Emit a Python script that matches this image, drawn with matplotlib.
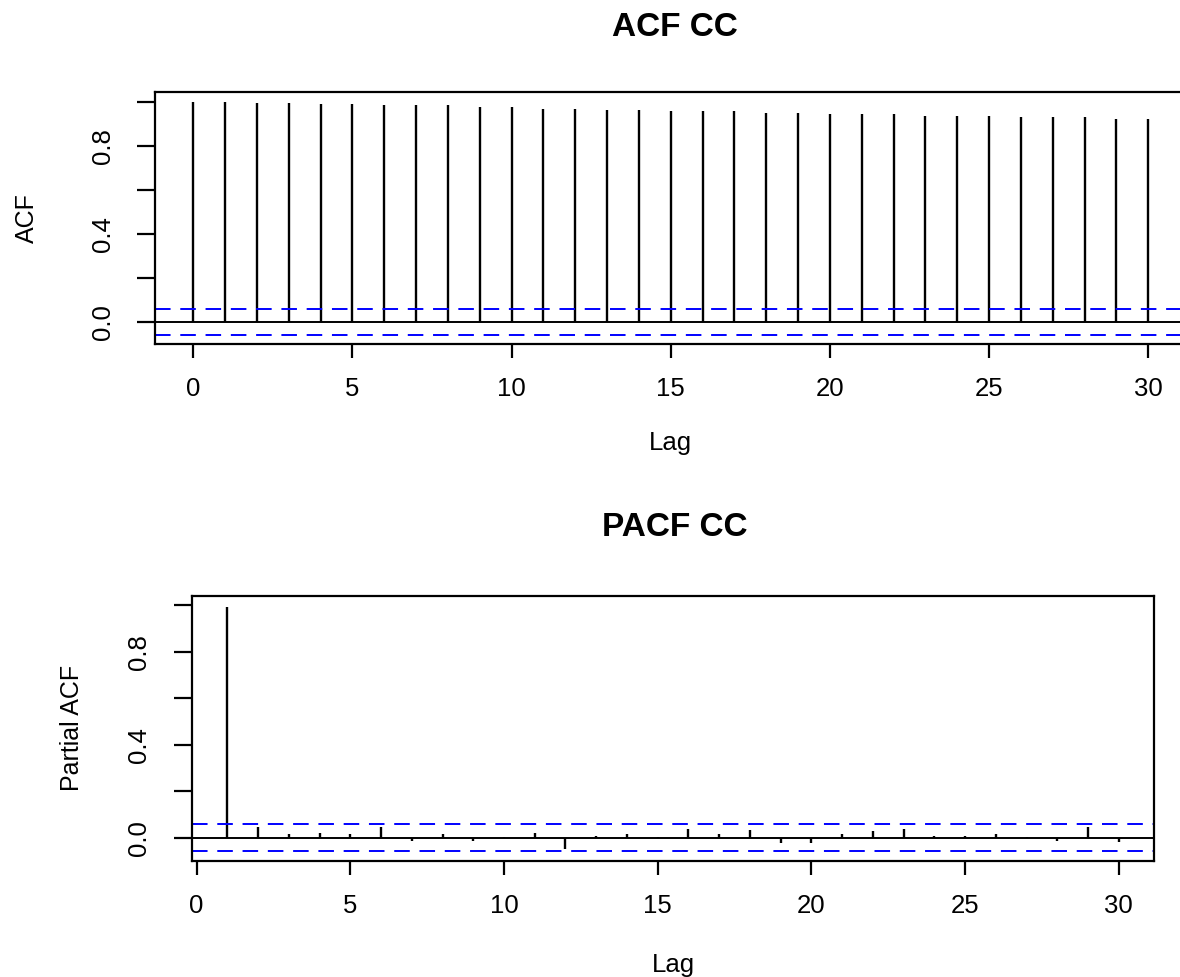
import matplotlib.pyplot as plt

plt.rcParams['font.family'] = ['Liberation Sans', 'DejaVu Sans']

# autocorrelation values
acf_lags = list(range(0, 31))
acf_vals = [1.0, 0.999, 0.995, 0.995, 0.990, 0.990, 0.984, 0.984, 0.984, 0.976,
            0.976, 0.969, 0.969, 0.963, 0.963, 0.957, 0.957, 0.957, 0.950, 0.951,
            0.944, 0.944, 0.944, 0.936, 0.936, 0.936, 0.929, 0.929, 0.929, 0.923,
            0.923]

pacf_lags = list(range(1, 31))
pacf_vals = [0.993, 0.047, 0.014, 0.021, 0.016, 0.047, -0.013, 0.016, -0.013, 0.003,
             0.021, -0.050, 0.007, 0.016, 0.002, 0.039, 0.016, 0.033, -0.024, -0.024,
             0.016, 0.029, 0.039, 0.008, 0.008, 0.016, 0.002, -0.013, 0.047, -0.019]

conf_bound = 0.057
y_ticks = [0.0, 0.2, 0.4, 0.6, 0.8, 1.0]
y_labels = ['0.0', '', '0.4', '', '0.8', '']
x_ticks = [0, 5, 10, 15, 20, 25, 30]


def r_style_corr(ax, lags, vals, xlim, ylim, ylabel):
    ax.vlines(lags, 0, vals, color='black', lw=1.7)
    ax.axhline(0, color='black', lw=1.4)
    for b in (conf_bound, -conf_bound):
        ax.axhline(b, color='#0000ff', lw=1.4, ls=(0, (8, 5)))
    ax.set_xlim(xlim)
    ax.set_ylim(ylim)
    ax.set_xticks(x_ticks)
    ax.set_yticks(y_ticks)
    ax.set_yticklabels(y_labels)
    for s in ax.spines.values():
        s.set_linewidth(1.6)
    ax.tick_params(axis='x', length=10, width=1.6, pad=14, labelsize=18.5)
    ax.tick_params(axis='y', length=13, width=1.6, pad=16, labelsize=18.5,
                   labelrotation=90)
    for t in ax.get_yticklabels():
        t.set_va('center')
    ax.set_xlabel('Lag', fontsize=18.5)
    ax.xaxis.set_label_coords(0.5, -0.393)
    ax.xaxis.label.set_va('center')
    ax.set_ylabel(ylabel, fontsize=18)
    ax.yaxis.set_label_coords(-0.124, 0.5)
    ax.yaxis.label.set_va('center')


fig = plt.figure(figsize=(11.8, 9.77), dpi=100)

ax1 = fig.add_axes([0.1314, 0.6479, 0.874, 0.258])
r_style_corr(ax1, acf_lags, acf_vals, (-1.2, 31.2), (-0.1, 1.045), 'ACF')

ax2 = fig.add_axes([0.1625, 0.119, 0.8158, 0.2712])
r_style_corr(ax2, pacf_lags, pacf_vals, (-0.16, 31.16), (-0.099, 1.04), 'Partial ACF')

fig.text(675 / 1180, 1 - 28 / 977, 'ACF CC', ha='center', va='center',
         fontsize=24, fontweight='bold')
fig.text(675 / 1180, 1 - 528 / 977, 'PACF CC', ha='center', va='center',
         fontsize=24, fontweight='bold')

fig.savefig('out.png', dpi=100)
